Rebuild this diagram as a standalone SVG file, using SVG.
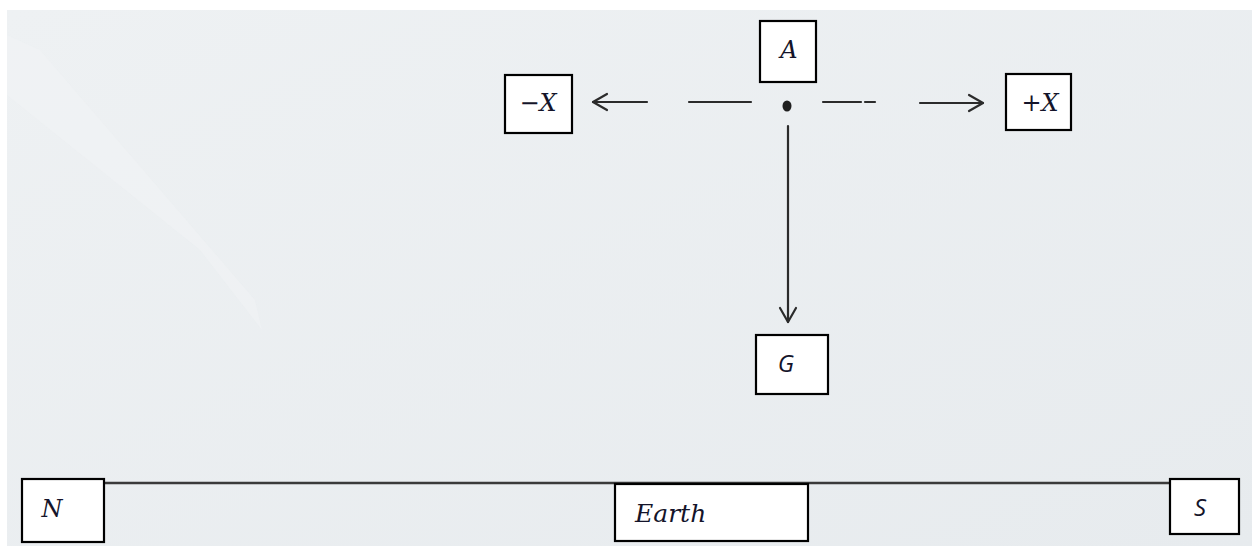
<svg xmlns="http://www.w3.org/2000/svg" width="1252" height="546" viewBox="0 0 1252 546">
  <defs>
    <linearGradient id="paper" x1="0" y1="0" x2="1" y2="1">
      <stop offset="0" stop-color="#eef1f3"/>
      <stop offset="1" stop-color="#e7ebee"/>
    </linearGradient>
    <marker id="open" viewBox="0 0 20 20" refX="18" refY="10" markerWidth="20" markerHeight="20" markerUnits="userSpaceOnUse" orient="auto">
      <path d="M4,2 L18,10 L4,18" fill="none" stroke="#2b2b2b" stroke-width="2.2" stroke-linecap="round" stroke-linejoin="round"/>
    </marker>
  </defs>
  <style>
    .box { fill: #ffffff; stroke: #000000; stroke-width: 2.2; }
    .lbl { font-family: "DejaVu Serif", "Liberation Serif", serif; font-style: italic; fill: #14142a; }
    .sans { font-family: "Open Sans", "Liberation Sans", sans-serif; font-style: italic; fill: #14142a; }
    .ink { stroke: #2b2b2b; stroke-width: 2.2; fill: none; stroke-linecap: round; }
  </style>
  <rect x="0" y="0" width="1252" height="546" fill="#ffffff"/>
  <rect x="7" y="10" width="1245" height="536" fill="url(#paper)"/>
  <path d="M7,35 L40,50 L255,300 L262,330 L200,250 L7,95 Z" fill="#f1f3f5" opacity="0.5"/>

  <g id="connectors">
    <line class="ink" x1="647" y1="102" x2="593" y2="102" marker-end="url(#open)"/>
    <line class="ink" x1="689" y1="102" x2="751" y2="102"/>
    <line class="ink" x1="823" y1="102" x2="861" y2="102"/>
    <line class="ink" x1="865" y1="102" x2="875" y2="102"/>
    <line class="ink" x1="920" y1="103" x2="983" y2="103" marker-end="url(#open)"/>
    <line class="ink" x1="788" y1="126" x2="788" y2="322" marker-end="url(#open)"/>
    <line x1="105" y1="483" x2="1170" y2="483" stroke="#3a3a3a" stroke-width="2.6"/>
  </g>

  <g id="point">
    <ellipse cx="787" cy="106" rx="4.5" ry="5.5" fill="#1f1f1f"/>
  </g>

  <g id="node-A">
    <rect class="box" x="760" y="21" width="56" height="61"/>
    <text class="lbl" x="789" y="58" font-size="24" text-anchor="middle">A</text>
  </g>
  <g id="node-minusX">
    <rect class="box" x="505" y="75" width="67" height="58"/>
    <text class="lbl" x="538" y="111" font-size="24" text-anchor="middle">−X</text>
  </g>
  <g id="node-plusX">
    <rect class="box" x="1006" y="74" width="65" height="56"/>
    <text class="lbl" x="1040" y="111" font-size="24" text-anchor="middle">+X</text>
  </g>
  <g id="node-G">
    <rect class="box" x="756" y="335" width="72" height="59"/>
    <text class="sans" x="786" y="372" font-size="24" text-anchor="middle">G</text>
  </g>
  <g id="node-N">
    <rect class="box" x="22" y="479" width="82" height="63"/>
    <text class="lbl" x="52" y="517" font-size="24" text-anchor="middle">N</text>
  </g>
  <g id="node-Earth">
    <rect class="box" x="615" y="484" width="193" height="57"/>
    <text class="lbl" x="635" y="522" font-size="25">Earth</text>
  </g>
  <g id="node-S">
    <rect class="box" x="1170" y="479" width="69" height="55"/>
    <text class="sans" x="1200" y="516" font-size="24" text-anchor="middle">S</text>
  </g>
</svg>
